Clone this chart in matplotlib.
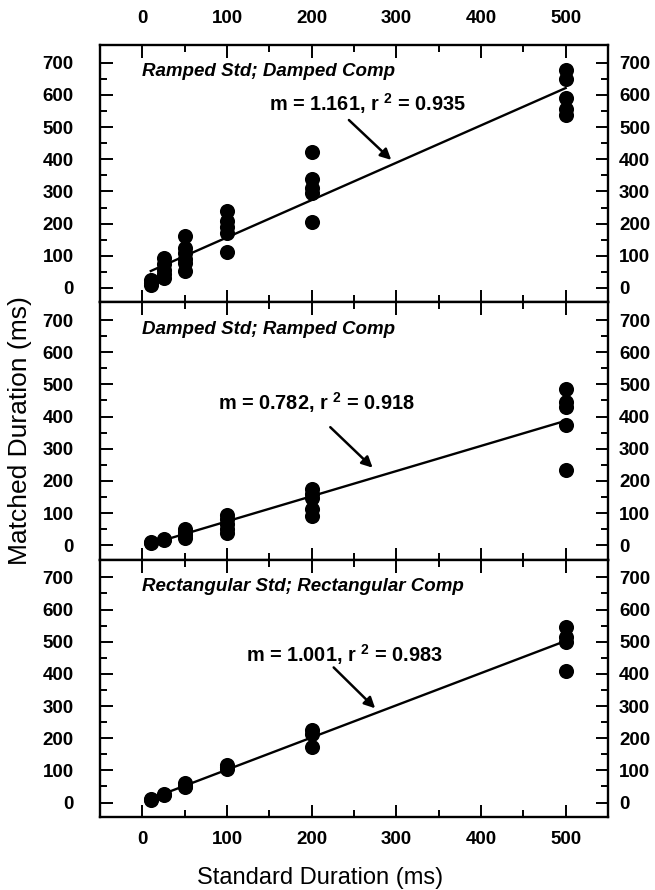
import numpy as np
import matplotlib
matplotlib.use('Agg')
import matplotlib.pyplot as plt
import matplotlib.transforms as mtransforms

plt.rcParams['font.family'] = ['Liberation Sans', 'DejaVu Sans']
plt.rcParams['mathtext.fontset'] = 'custom'
plt.rcParams['mathtext.rm'] = 'Liberation Sans:bold'
plt.rcParams['mathtext.default'] = 'rm'

# standard durations (ms)
durations = [10, 25, 50, 100, 200, 500]

# matched durations per standard duration, one list per panel
ramped_damped = [[25, 15, 10],
                 [94, 73, 57, 42, 31],
                 [162, 123, 109, 90, 76, 52],
                 [238, 207, 190, 170, 112],
                 [424, 338, 312, 295, 206],
                 [679, 651, 592, 555, 539]]
damped_ramped = [[10, 6],
                 [20, 16],
                 [50, 40, 32, 22],
                 [94, 80, 65, 50, 38],
                 [174, 160, 146, 112, 90],
                 [486, 445, 430, 373, 233]]
rect_rect = [[12, 8],
             [27, 22],
             [62, 52, 48],
             [118, 110, 104],
             [227, 212, 174],
             [547, 516, 500, 410]]

titles = ['Ramped Std; Damped Comp', 'Damped Std; Ramped Comp',
          'Rectangular Std; Rectangular Comp']
slopes = [1.161, 0.782, 1.001]
intercepts = [41, -4, 2]
r2_vals = [0.935, 0.918, 0.983]

panels = [ramped_damped, damped_ramped, rect_rect]
# label centre and arrow (start, end) for each panel, data coords
label_pos = [(266, 574), (206, 445), (238, 461)]
arrows = [((244, 522), (294, 398)), ((222, 367), (272, 241)), ((226, 420), (275, 293))]

fig = plt.figure(figsize=(6.55, 8.9), dpi=100)
left, width = 100 / 655, 508 / 655
h = 257.3 / 890
bottom0 = 73 / 890

for i, data in enumerate(panels):
    ax = fig.add_axes([left, bottom0 + (2 - i) * h, width, h])
    xs = np.concatenate([[d] * len(v) for d, v in zip(durations, data)])
    ys = np.concatenate(data)
    ax.scatter(xs, ys, s=118, c='black', zorder=3, linewidths=0)

    xl = np.array([durations[0], durations[-1]])
    ax.plot(xl, slopes[i] * xl + intercepts[i], color='black', lw=1.7, zorder=2)

    ax.text(0, 672, titles[i], fontsize=13.5, fontweight='bold', fontstyle='italic',
            ha='left', va='center')
    ax.text(label_pos[i][0], label_pos[i][1],
            'm = %.3f, r $^{2}$ = %.3f' % (slopes[i], r2_vals[i]),
            fontsize=14.3, fontweight='bold', ha='center', va='center')
    ax.annotate('', xy=arrows[i][1], xytext=arrows[i][0],
                arrowprops=dict(arrowstyle='-|>', color='black', lw=1.8,
                                mutation_scale=16, shrinkA=0, shrinkB=0))

    ax.set_xlim(-50, 550)
    ax.set_ylim(-45, 755)
    ax.set_xticks([0, 100, 200, 300, 400, 500])
    ax.set_xticks(np.arange(50, 550, 100), minor=True)
    ax.set_yticks(np.arange(0, 800, 100))
    ax.set_yticks(np.arange(50, 750, 100), minor=True)

    for sp in ax.spines.values():
        sp.set_linewidth(1.7)

    ax.tick_params(which='both', direction='in', top=True, right=True, width=1.4)
    ax.tick_params(which='major', length=9)
    ax.tick_params(which='minor', length=5)
    ax.tick_params(axis='y', which='major', labelleft=True, labelright=True,
                   labelsize=13.5, pad=19)
    for t in ax.yaxis.get_major_ticks():
        t.label1.set_fontweight('bold')
        t.label2.set_fontweight('bold')
    ax.tick_params(axis='x', which='major', labelsize=13.5,
                   labeltop=(i == 0), labelbottom=(i == 2), pad=10)
    for t in ax.xaxis.get_major_ticks():
        t.label1.set_fontweight('bold')
        t.label2.set_fontweight('bold')

    # right-hand tick labels sit closer to the frame
    off = mtransforms.ScaledTranslation(-11 / 72, 0, fig.dpi_scale_trans)
    for t in ax.yaxis.get_major_ticks():
        t.label2.set_transform(t.label2.get_transform() + off)
    if i == 0:
        offt = mtransforms.ScaledTranslation(0, 3 / 72, fig.dpi_scale_trans)
        for t in ax.xaxis.get_major_ticks():
            t.label2.set_transform(t.label2.get_transform() + offt)

fig.text(320 / 655, 1 - 878 / 890, 'Standard Duration (ms)', fontsize=17,
         ha='center', va='center')
fig.text(20 / 655, 1 - 431 / 890, 'Matched Duration (ms)', fontsize=19,
         ha='center', va='center', rotation=90)

fig.savefig('out.png', dpi=100)
